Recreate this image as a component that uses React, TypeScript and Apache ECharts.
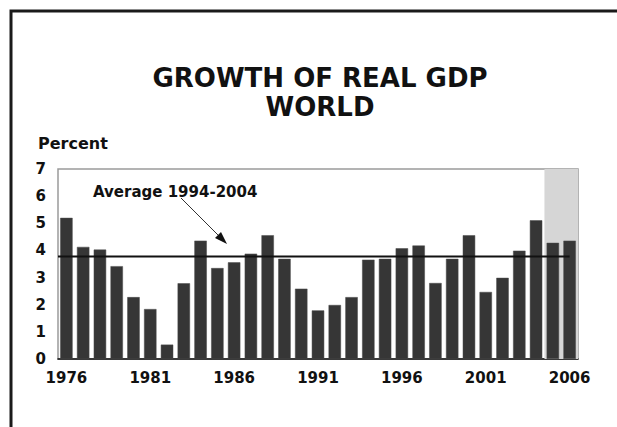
import React, { useEffect, useRef } from "react";
import * as echarts from "echarts";

const years = [
  "1976","1977","1978","1979","1980","1981","1982","1983","1984","1985",
  "1986","1987","1988","1989","1990","1991","1992","1993","1994","1995",
  "1996","1997","1998","1999","2000","2001","2002","2003","2004","2005","2006",
];
const growth = [
  5.2, 4.13, 4.03, 3.42, 2.28, 1.84, 0.53, 2.79, 4.36, 3.35,
  3.56, 3.88, 4.56, 3.69, 2.59, 1.79, 1.99, 2.28, 3.66, 3.69,
  4.08, 4.18, 2.8, 3.69, 4.56, 2.47, 2.99, 3.99, 5.11, 4.28, 4.36,
];
const average1994to2004 = 3.78;
const projectionYears = ["2005", "2006"];
const titleLines = ["GROWTH OF REAL GDP", "WORLD"];
const yLabel = "Percent";
const annotationText = "Average 1994-2004";

const FONT = '"DejaVu Sans", "Liberation Sans", Arial, sans-serif';

export default function App() {
  const ref = useRef<HTMLDivElement>(null);
  useEffect(() => {
    if (!ref.current) return;
    const chart = echarts.init(ref.current, undefined, { renderer: "svg" });
    const projStart = years.indexOf(projectionYears[0]) - 0.5;
    const projEnd = years.indexOf(projectionYears[1]) + 0.5;
    chart.setOption({
      animation: false,
      backgroundColor: "#ffffff",
      grid: {
        left: 58,
        top: 169,
        right: 39,
        bottom: 68,
        show: true,
        borderColor: "#9a9a9a",
        borderWidth: 1.5,
        backgroundColor: "transparent",
      },
      xAxis: [
        {
          type: "category",
          data: years,
          boundaryGap: true,
          axisLine: { show: true, lineStyle: { color: "#111", width: 1.5 } },
          axisTick: { show: false },
          axisLabel: {
            interval: 4,
            margin: 11,
            color: "#111",
            fontFamily: FONT,
            fontWeight: "bold",
            fontSize: 15,
          },
        },
        {
          type: "value",
          min: -0.5,
          max: years.length - 0.5,
          show: false,
        },
      ],
      yAxis: {
        type: "value",
        min: 0,
        max: 7,
        interval: 1,
        axisLine: { show: false },
        axisTick: { show: false },
        splitLine: { show: false },
        axisLabel: {
          margin: 12,
          color: "#111",
          fontFamily: FONT,
          fontWeight: "bold",
          fontSize: 15,
        },
      },
      series: [
        {
          type: "bar",
          data: growth,
          barWidth: "74%",
          itemStyle: { color: "#363636", borderColor: "#4a4a4a", borderWidth: 0.5 },
          z: 3,
        },
        {
          type: "line",
          xAxisIndex: 1,
          data: [
            [-0.5, average1994to2004],
            [years.length - 1, average1994to2004],
          ],
          symbol: "none",
          lineStyle: { color: "#111", width: 2 },
          z: 5,
          markArea: {
            silent: true,
            z: 1,
            itemStyle: { color: "#d6d6d6" },
            data: [[{ xAxis: projStart }, { xAxis: projEnd }]],
          },
        },
      ],
      graphic: [
        {
          type: "rect",
          shape: { x: 11, y: 11, width: 700, height: 500 },
          style: { fill: "none", stroke: "#1a1a1a", lineWidth: 3 },
          silent: true,
        },
        {
          type: "text",
          x: 320,
          y: 78,
          style: {
            text: titleLines[0],
            align: "center",
            verticalAlign: "middle",
            fontFamily: FONT,
            fontWeight: "bold",
            fontSize: 26,
            fill: "#111",
          },
        },
        {
          type: "text",
          x: 320,
          y: 107,
          style: {
            text: titleLines[1],
            align: "center",
            verticalAlign: "middle",
            fontFamily: FONT,
            fontWeight: "bold",
            fontSize: 26,
            fill: "#111",
          },
        },
        {
          type: "text",
          x: 38,
          y: 143,
          style: {
            text: yLabel,
            align: "left",
            verticalAlign: "middle",
            fontFamily: FONT,
            fontWeight: "bold",
            fontSize: 16,
            fill: "#111",
          },
        },
        {
          type: "text",
          x: 93,
          y: 192,
          style: {
            text: annotationText,
            align: "left",
            verticalAlign: "middle",
            fontFamily: FONT,
            fontWeight: "bold",
            fontSize: 15,
            fill: "#111",
          },
        },
        {
          type: "line",
          shape: { x1: 181, y1: 198, x2: 221, y2: 238 },
          style: { stroke: "#333", lineWidth: 1 },
        },
        {
          type: "polygon",
          shape: { points: [[227, 244], [215, 238], [221, 232]] },
          style: { fill: "#111" },
        },
      ],
    });
    return () => chart.dispose();
  }, []);
  return (
    <div
      ref={ref}
      style={{ position: "fixed", left: 0, top: 0, width: 617, height: 427, background: "#fff" }}
    />
  );
}
